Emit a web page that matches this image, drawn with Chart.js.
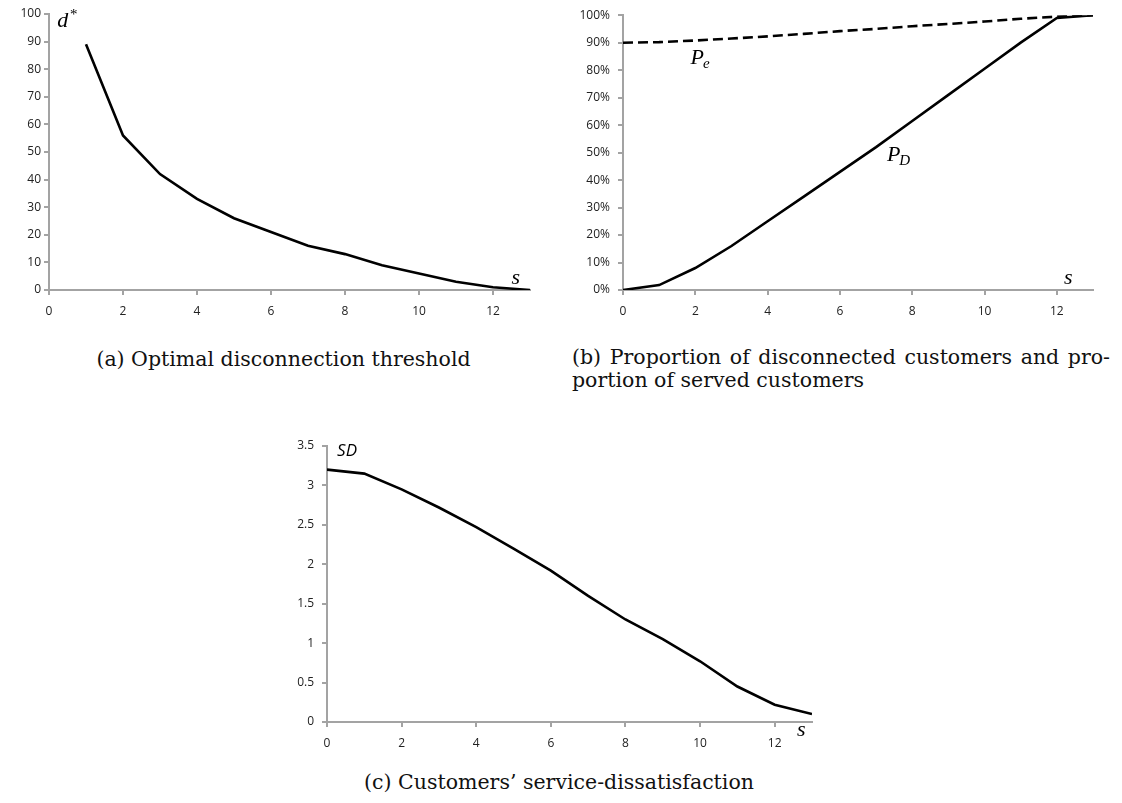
<!DOCTYPE html>
<html>
<head>
<meta charset="utf-8">
<script src="https://cdn.jsdelivr.net/npm/chart.js@4.4.1/dist/chart.umd.min.js"></script>
<style>
  html, body { margin: 0; padding: 0; background: #fff; }
  body { width: 1122px; height: 803px; position: relative; overflow: hidden; }
  canvas { position: absolute; }
  #chartA { left: 0; top: 0; }
  #chartB { left: 560px; top: 0; }
  #chartC { left: 260px; top: 430px; }
  .caption { position: absolute; font-family: 'DejaVu Serif', serif; font-size: 20.5px; color: #111; line-height: 23px; white-space: nowrap; }
  #capA { left: 80px; width: 407px; top: 348px; text-align: center; }
  #capB { left: 572px; width: 538px; top: 346px; }
  #capB .l1 { text-align: justify; text-align-last: justify; }
  #capC { left: 340px; width: 438px; top: 771px; text-align: center; }
</style>
</head>
<body>
<canvas id="chartA" width="545" height="320"></canvas>
<canvas id="chartB" width="548" height="320"></canvas>
<canvas id="chartC" width="567" height="320"></canvas>
<div class="caption" id="capA">(a) Optimal disconnection threshold</div>
<div class="caption" id="capB"><div class="l1">(b) Proportion of disconnected customers and pro-</div><div>portion of served customers</div></div>
<div class="caption" id="capC">(c) Customers’ service-dissatisfaction</div>
<script>
// s values
const sThreshold = [1, 2, 3, 4, 5, 6, 7, 8, 9, 10, 11, 12, 13];
const sAll = [0, 1, 2, 3, 4, 5, 6, 7, 8, 9, 10, 11, 12, 13];

// (a) optimal disconnection threshold d*
const dStar = [89, 56, 42, 33, 26, 21, 16, 13, 9, 6, 3, 1, 0];

// (b) proportions (%)
const pE = [90, 90.2, 90.8, 91.5, 92.3, 93.2, 94.2, 95, 96, 96.8, 97.7, 98.7, 99.5, 100];
const pD = [0, 1.8, 8, 16, 25, 34, 43, 52, 61.5, 71, 80.5, 90, 99, 100];

// (c) service dissatisfaction
const sd = [3.2, 3.15, 2.95, 2.72, 2.47, 2.2, 1.92, 1.6, 1.3, 1.05, 0.77, 0.45, 0.22, 0.1];

const AXIS_GRAY = '#a3a3a3';
const MATH_FONT = 'italic 22px "Liberation Serif", serif';
const MATH_SUB = 'italic 15px "Liberation Serif", serif';

Chart.defaults.font.family = '"Open Sans", sans-serif';
Chart.defaults.font.size = 12;
Chart.defaults.color = '#222';

const toPoints = (xs, ys) => xs.map((x, i) => ({ x, y: ys[i] }));

// draws the italic math labels at data positions
const textLabels = {
  id: 'textLabels',
  afterDraw(chart, args, opts) {
    const { ctx } = chart;
    const xs = chart.scales.x;
    const ys = chart.scales.y;
    (opts.items || []).forEach((item) => {
      const px = xs.getPixelForValue(item.x);
      const py = ys.getPixelForValue(item.y);
      ctx.save();
      ctx.fillStyle = '#000';
      ctx.textBaseline = 'middle';
      ctx.textAlign = 'left';
      ctx.font = item.font || MATH_FONT;
      ctx.fillText(item.text, px, py);
      const w = ctx.measureText(item.text).width;
      if (item.sub) {
        ctx.font = MATH_SUB;
        ctx.fillText(item.sub, px + w - 1, py + 6);
      }
      if (item.sup) {
        ctx.font = MATH_SUB;
        ctx.fillText(item.sup, px + w + 1, py - 6);
      }
      ctx.restore();
    });
  }
};

function makeLine(canvasId, datasets, cfg) {
  const ctx = document.getElementById(canvasId).getContext('2d');
  return new Chart(ctx, {
    type: 'line',
    data: { datasets },
    plugins: [textLabels],
    options: {
      responsive: false,
      animation: false,
      devicePixelRatio: 1,
      layout: { padding: cfg.padding },
      plugins: {
        legend: { display: false },
        tooltip: { enabled: false },
        textLabels: { items: cfg.labels }
      },
      elements: { point: { radius: 0 }, line: { tension: 0 } },
      scales: {
        x: {
          type: 'linear',
          min: 0,
          max: 13,
          afterFit: (scale) => { scale.height = cfg.xHeight; },
          ticks: { stepSize: 2, includeBounds: false, autoSkip: false, maxRotation: 0, padding: 9 },
          grid: { drawOnChartArea: false, drawTicks: true, tickLength: 5, color: AXIS_GRAY, lineWidth: 2 },
          border: { color: AXIS_GRAY, width: 2 }
        },
        y: {
          min: 0,
          max: cfg.yMax,
          afterFit: (scale) => { scale.width = cfg.yWidth; },
          ticks: { stepSize: cfg.yStep, padding: cfg.yPad, callback: cfg.yFormat },
          grid: { drawOnChartArea: false, drawTicks: true, tickLength: 5, color: AXIS_GRAY, lineWidth: 2 },
          border: { color: AXIS_GRAY, width: 2 }
        }
      }
    }
  });
}

makeLine('chartA', [
  { data: toPoints(sThreshold, dStar), borderColor: '#000', borderWidth: 2.6 }
], {
  padding: { left: 0, top: 14, right: 15, bottom: 0 },
  xHeight: 30, yWidth: 49, yMax: 100, yStep: 10, yPad: 3,
  yFormat: (v) => v,
  labels: [
    { text: 'd', sup: '*', x: 0.22, y: 97.5 },
    { text: 's', x: 12.5, y: 4.3 }
  ]
});

makeLine('chartB', [
  { data: toPoints(sAll, pE), borderColor: '#000', borderWidth: 2.6, borderDash: [10, 5] },
  { data: toPoints(sAll, pD), borderColor: '#000', borderWidth: 2.6 }
], {
  padding: { left: 0, top: 14, right: 15, bottom: 0 },
  xHeight: 30, yWidth: 63, yMax: 100, yStep: 10, yPad: 8,
  yFormat: (v) => v + '%',
  labels: [
    { text: 'P', sub: 'e', x: 1.87, y: 84.5 },
    { text: 'P', sub: 'D', x: 7.3, y: 49 },
    { text: 's', x: 12.2, y: 4.3 }
  ]
});

makeLine('chartC', [
  { data: toPoints(sAll, sd), borderColor: '#000', borderWidth: 2.6 }
], {
  padding: { left: 0, top: 16, right: 15, bottom: 0 },
  xHeight: 28, yWidth: 67, yMax: 3.5, yStep: 0.5, yPad: 8,
  yFormat: (v) => v,
  labels: [
    { text: 'SD', font: 'italic 17px "Open Sans", sans-serif', x: 0.27, y: 3.43 },
    { text: 's', x: 12.6, y: -0.1 }
  ]
});
</script>
</body>
</html>
